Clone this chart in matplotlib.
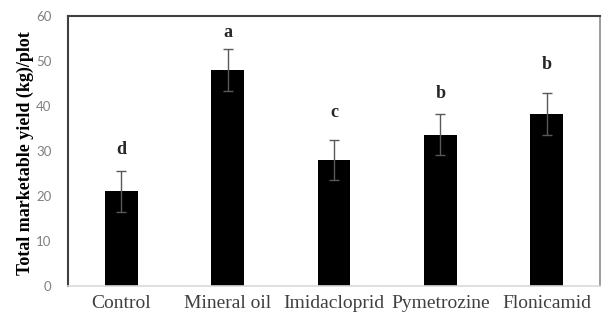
import matplotlib
matplotlib.use('Agg')
from matplotlib import pyplot as plt
import numpy as np

# values
treatments = ['Control', 'Mineral oil', 'Imidacloprid', 'Pymetrozine', 'Flonicamid']
yield_mean = [21.0, 48.0, 28.0, 33.6, 38.2]
yield_err = [4.6, 4.6, 4.5, 4.55, 4.6]
letters = ['d', 'a', 'c', 'b', 'b']
letter_y = [30.4, 56.4, 38.6, 42.8, 49.1]
y_ticks = [0, 10, 20, 30, 40, 50, 60]

fig = plt.figure(figsize=(6.02, 3.14), dpi=100)
ax = fig.add_axes([68 / 602, 1 - 285.7 / 314, 532 / 602, 269.7 / 314])

x = np.arange(len(treatments))
ax.bar(x, yield_mean, width=0.31, color='black', zorder=2)
ax.errorbar(x, yield_mean, yerr=yield_err, fmt='none', ecolor='#595959',
            elinewidth=1.0, capsize=3.5, capthick=1.0, zorder=3)

for xi, lab, ly in zip(x, letters, letter_y):
    ax.text(xi, ly, lab, ha='center', va='center', fontsize=13,
            fontweight='bold', family='Liberation Serif', color='#262626')

ax.set_xlim(-0.5, len(treatments) - 0.5)
ax.set_ylim(0, 60)
ax.set_yticks(y_ticks)
ax.set_yticklabels([str(t) for t in y_ticks], family='Lato', fontsize=9.5,
                   color='#808080')
ax.set_xticks(x)
ax.set_xticklabels(treatments, family='Liberation Serif', fontsize=14,
                   color='#404040')
ax.tick_params(axis='both', length=0)
ax.tick_params(axis='y', pad=12)
ax.tick_params(axis='x', pad=7)

ax.spines['left'].set_color('#404040')
ax.spines['left'].set_linewidth(1.5)
ax.spines['top'].set_color('#404040')
ax.spines['top'].set_linewidth(1.5)
ax.spines['right'].set_color('#8c8c8c')
ax.spines['right'].set_linewidth(1.2)
ax.spines['bottom'].set_color('#d9d9d9')
ax.spines['bottom'].set_linewidth(1.2)

fig.text(25 / 602, 1 - 153 / 314, 'Total marketable yield (kg)/plot',
         rotation=90, ha='center', va='center', fontsize=13,
         fontweight='bold', family='Liberation Serif', color='black')

fig.savefig('out.png', dpi=100)
